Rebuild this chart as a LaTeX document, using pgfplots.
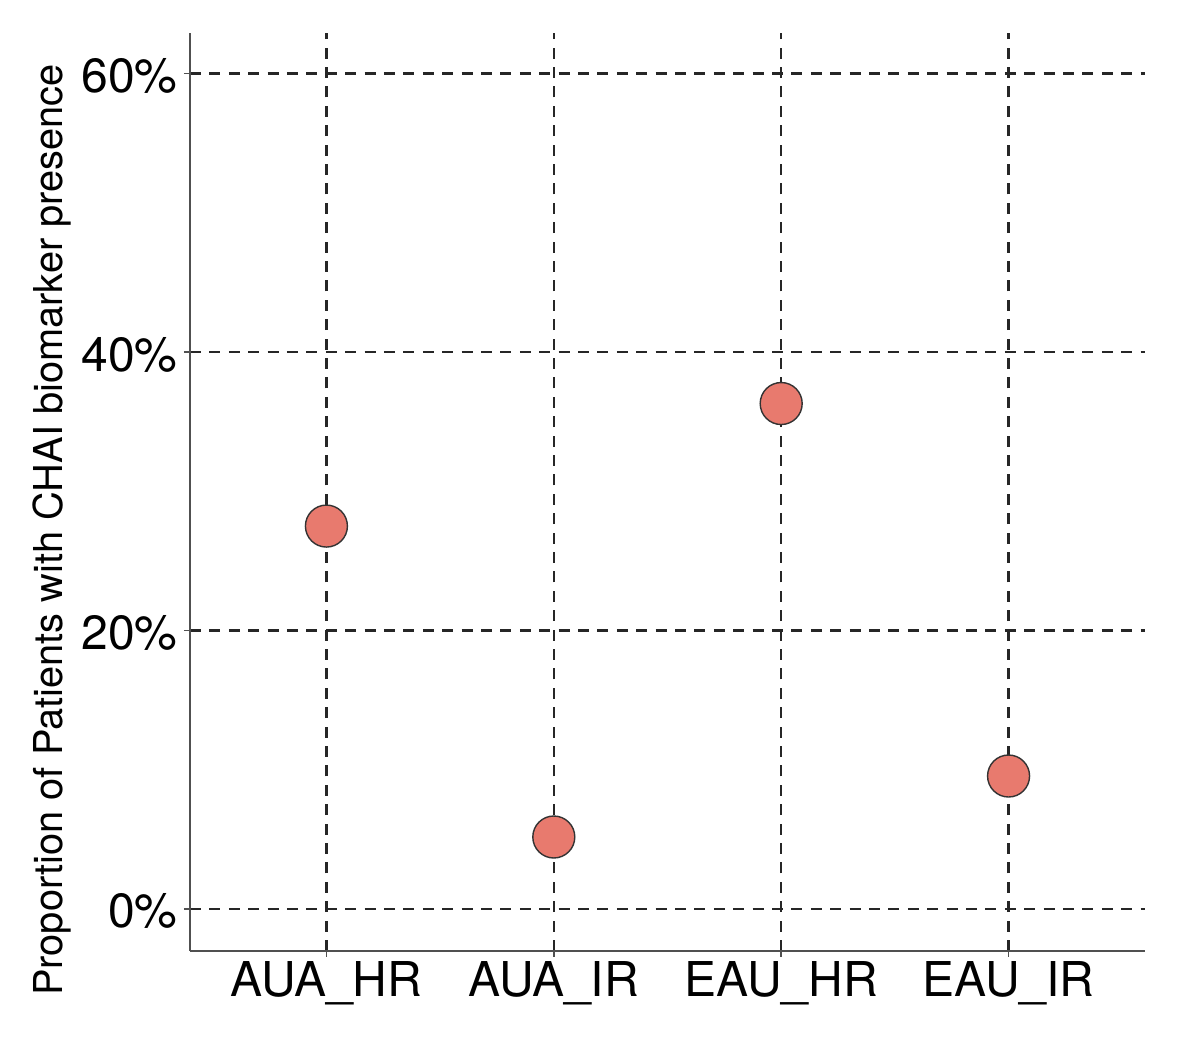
\documentclass[border=0pt]{standalone}
\usepackage{pgfplots}
\pgfplotsset{compat=1.18}
\usepackage{fontspec}
\setmainfont{TeX Gyre Heros}
\definecolor{pt}{RGB}{232,122,110}
\definecolor{axisgray}{RGB}{80,80,80}
\begin{document}
\begin{tikzpicture}
\begin{axis}[
  scale only axis, width=477.5pt, height=459pt,
  xmin=-0.6, xmax=3.6, ymin=-3.016, ymax=62.91,
  axis lines*=left,
  axis line style={axisgray, line width=0.8pt},
  xtick={0,1,2,3}, xticklabels={AUA\_HR,AUA\_IR,EAU\_HR,EAU\_IR},
  ytick={0,20,40,60}, yticklabels={0\%,20\%,40\%,60\%},
  tick align=outside, major tick length=3pt,
  tick style={axisgray, line width=0.8pt},
  grid=major,
  major grid style={black!85, line width=1.1pt, dash pattern=on 5.5pt off 4.2pt},
  ticklabel style={font=\fontsize{24}{28}\selectfont, inner sep=0pt},
  xticklabel style={anchor=base, yshift=-20pt},
  yticklabel style={anchor=base east, xshift=-3pt, yshift=-9.5pt},
  every axis y label/.style={at={(axis description cs:-0.133,0.4586)}, rotate=90, anchor=base, inner sep=0pt, font=\fontsize{19.9}{24}\selectfont},
  ylabel={Proportion of Patients with CHAI biomarker presence},
  clip=false,
]
\addplot[only marks, mark=*, mark size=10.5pt, mark options={fill=pt, draw=black!80, line width=0.7pt}]
  coordinates {(0,27.5) (1,5.17) (2,36.3) (3,9.55)};
\end{axis}
\pgfresetboundingbox
\path ([xshift=-95pt,yshift=-43pt]current axis.south west) rectangle ([xshift=27.5pt,yshift=16.5pt]current axis.north east);
\end{tikzpicture}
\end{document}
